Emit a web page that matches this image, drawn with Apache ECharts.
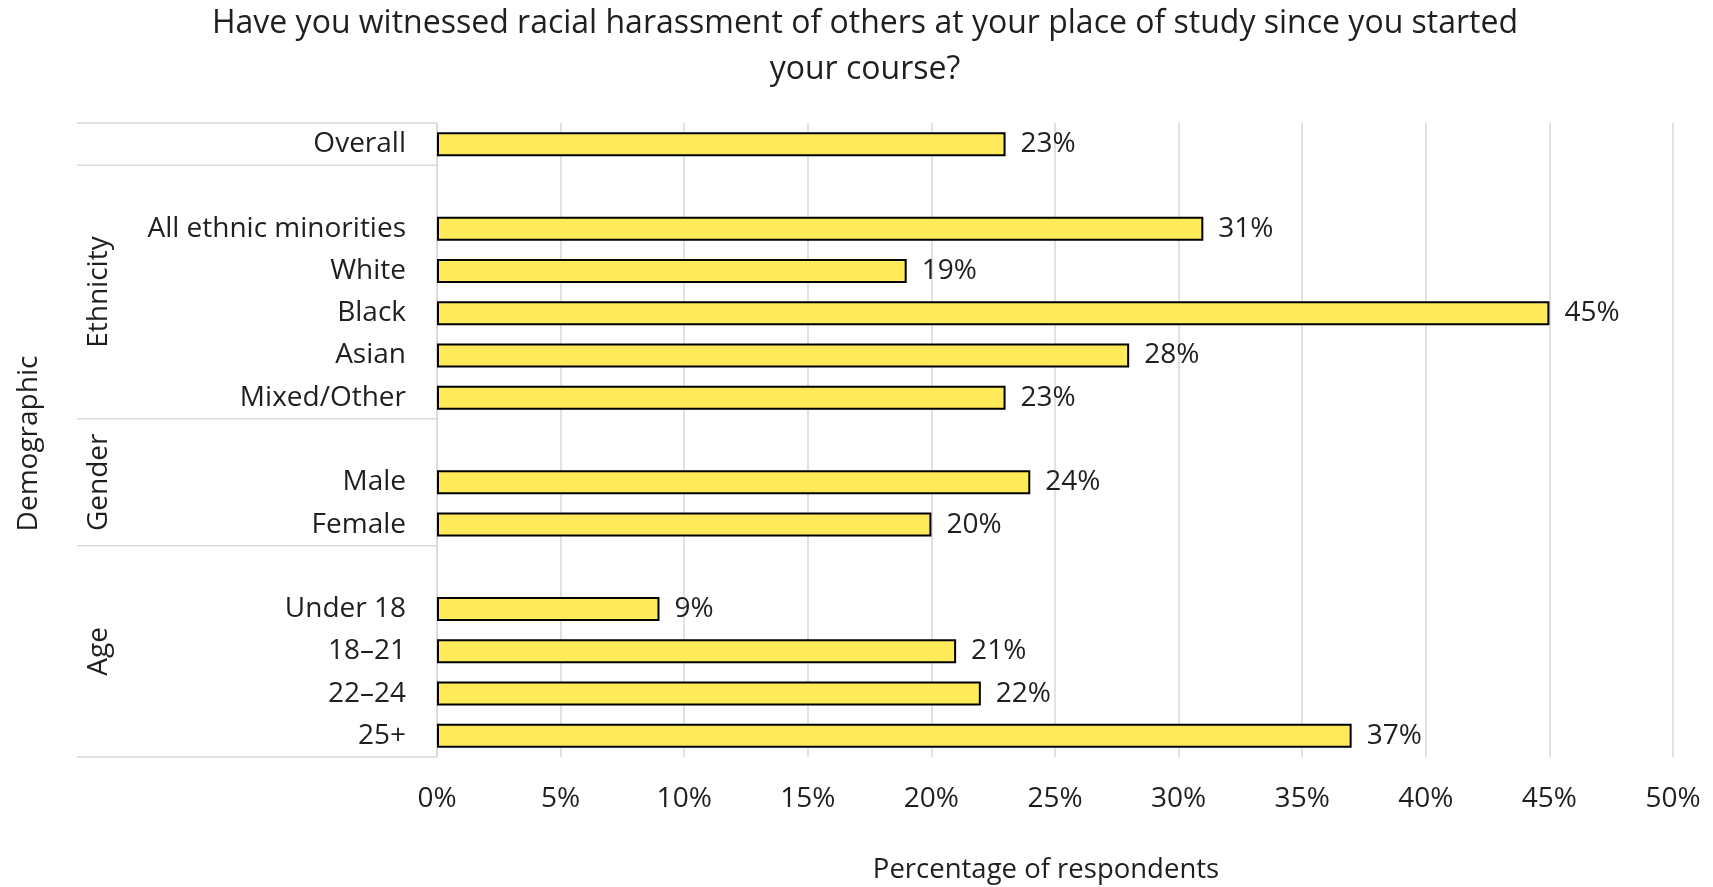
<!DOCTYPE html>
<html>
<head>
<meta charset="utf-8">
<title>Witnessed racial harassment</title>
<script src="https://cdn.jsdelivr.net/npm/echarts@6/dist/echarts.min.js"></script>
<style>
  html, body { margin: 0; padding: 0; background: #ffffff; }
  #chart { width: 1713px; height: 887px; }
</style>
</head>
<body>
<div id="chart"></div>
<script>
// Rows of the category axis, top to bottom; blank rows are gaps between groups
const categories = ['Overall', '', 'All ethnic minorities', 'White', 'Black', 'Asian', 'Mixed/Other',
  '', 'Male', 'Female', '', 'Under 18', '18–21', '22–24', '25+'];
// Percentage of respondents for each row (null for gap rows)
const values = [23, null, 31, 19, 45, 28, 23, null, 24, 20, null, 9, 21, 22, 37];

// Outer grouping of the rows: name, first row, last row
const groupNames = ['', 'Ethnicity', 'Gender', 'Age'];
const groupFirst = [0, 1, 7, 10];
const groupLast = [0, 6, 9, 14];

// Value axis
const axisMin = 0;
const axisMax = 50;
const axisStep = 5;

const FONT = '"Open Sans", "Liberation Sans", sans-serif';
const TEXT = '#1f1f1f';
const RULE = '#d9d9d9';
const SIZE = 28;

const chart = echarts.init(document.getElementById('chart'), null, { renderer: 'canvas' });

const groupData = groupNames.map((n, i) => [axisMin, groupFirst[i], groupLast[i], n, i]);

chart.setOption({
  animation: false,
  backgroundColor: '#ffffff',
  textStyle: { fontFamily: FONT },
  title: {
    text: 'Have you witnessed racial harassment of others at your place of study since you started\nyour course?',
    left: 865,
    textAlign: 'center',
    top: 1,
    padding: 0,
    textStyle: { fontFamily: FONT, fontSize: 32, fontWeight: 'normal', color: TEXT, lineHeight: 46 }
  },
  grid: { left: 437, right: 40, top: 123, bottom: 130, containLabel: false, outerBoundsMode: 'none' },
  xAxis: {
    type: 'value',
    min: axisMin,
    max: axisMax,
    interval: axisStep,
    name: 'Percentage of respondents',
    nameLocation: 'middle',
    nameGap: 99,
    nameTextStyle: { fontFamily: FONT, fontSize: 27.5, color: TEXT, padding: [0, 18, 0, 0] },
    axisLine: { show: false },
    axisTick: { show: false },
    axisLabel: { formatter: '{value}%', fontFamily: FONT, fontSize: SIZE, color: TEXT, margin: 28 },
    splitLine: { show: true, lineStyle: { color: RULE, width: 1.5 } }
  },
  yAxis: {
    type: 'category',
    data: categories,
    inverse: true,
    name: 'Demographic',
    nameLocation: 'middle',
    nameRotate: 90,
    nameGap: 394,
    nameTextStyle: { fontFamily: FONT, fontSize: SIZE, color: TEXT, padding: [0, 7, 0, 0] },
    axisLine: { show: true, lineStyle: { color: RULE, width: 1.5 } },
    axisTick: { show: false },
    axisLabel: { fontFamily: FONT, fontSize: SIZE, color: TEXT, margin: 31, interval: 0 },
    splitLine: { show: false }
  },
  series: [
    {
      type: 'bar',
      data: values,
      barWidth: 24,
      itemStyle: { color: '#FFEB5A', borderColor: '#000000', borderWidth: 2 },
      label: {
        show: true,
        position: 'right',
        distance: 15,
        formatter: p => (p.value == null ? '' : p.value + '%'),
        fontFamily: FONT,
        fontSize: SIZE,
        color: TEXT
      },
      z: 3
    },
    {
      // Group brackets in the label area: divider rules and rotated group names
      type: 'custom',
      clip: false,
      silent: true,
      data: groupData,
      encode: { x: 0, y: 1 },
      renderItem: function (params, api) {
        const band = api.size([0, 1])[1];
        const a = api.coord([api.value(0), api.value(1)]);
        const b = api.coord([api.value(0), api.value(2)]);
        const xAxisPos = a[0];
        const yTop = Math.min(a[1], b[1]) - band / 2;
        const yBot = Math.max(a[1], b[1]) + band / 2;
        const xStart = xAxisPos - 360;
        const idx = api.value(4);
        const children = [];
        const ruleStyle = { stroke: RULE, lineWidth: 1.5 };
        if (idx === 0) {
          children.push({ type: 'line', shape: { x1: xStart, y1: yTop, x2: xAxisPos, y2: yTop }, style: ruleStyle });
        }
        children.push({ type: 'line', shape: { x1: xStart, y1: yBot, x2: xAxisPos, y2: yBot }, style: ruleStyle });
        const name = groupNames[idx];
        if (name) {
          children.push({
            type: 'text',
            x: xAxisPos - 338,
            y: (yTop + yBot) / 2,
            rotation: Math.PI / 2,
            style: {
              text: name,
              fontFamily: FONT,
              fontSize: SIZE,
              fill: TEXT,
              align: 'center',
              verticalAlign: 'middle'
            }
          });
        }
        return { type: 'group', children: children };
      },
      z: 2
    }
  ]
});
</script>
</body>
</html>
